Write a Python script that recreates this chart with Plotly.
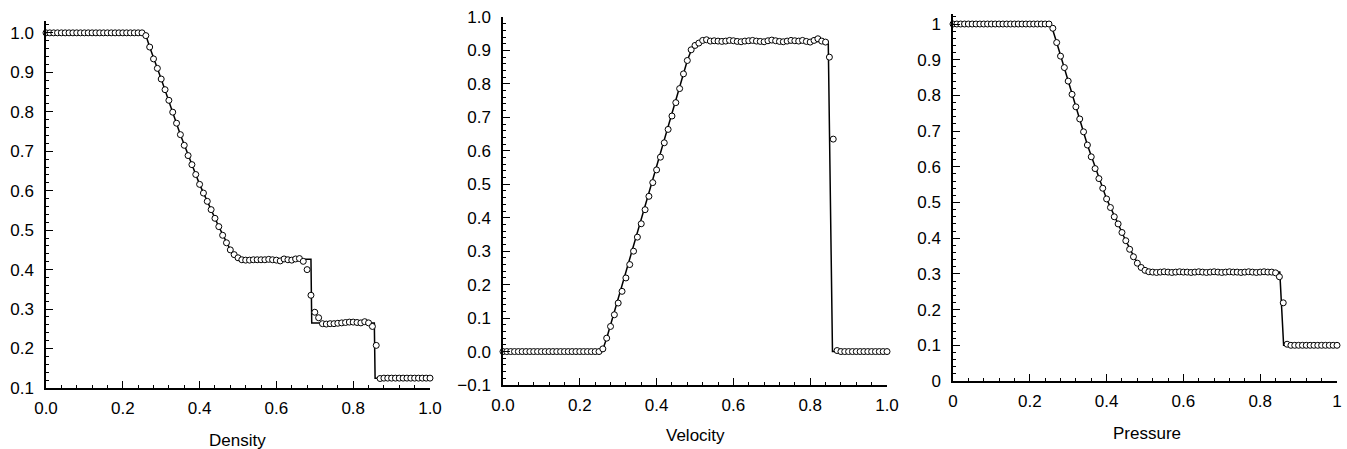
import plotly.graph_objects as go

# ---------------- data ----------------
x_grid = [round(0.01 * i, 2) for i in range(101)]

density_pts = (
    [1.0] * 26 +
    [0.993, 0.964, 0.934, 0.910, 0.883, 0.856, 0.829, 0.799, 0.771, 0.742,
     0.715, 0.689, 0.666, 0.641, 0.616, 0.594, 0.573, 0.552, 0.530, 0.509,
     0.487, 0.468, 0.450, 0.438, 0.430, 0.425, 0.424, 0.424, 0.425, 0.425,
     0.425, 0.425, 0.426, 0.425, 0.424, 0.422, 0.427, 0.425, 0.424, 0.427,
     0.428, 0.421, 0.400, 0.335, 0.292, 0.278, 0.263, 0.262, 0.263, 0.263,
     0.264, 0.265, 0.266, 0.267, 0.267, 0.266, 0.265, 0.268, 0.265, 0.256,
     0.208, 0.124] +
    [0.125] * 13
)

velocity_pts = (
    [0.0] * 26 +
    [0.008, 0.040, 0.075, 0.110, 0.145, 0.180, 0.220, 0.260, 0.300, 0.342,
     0.382, 0.424, 0.464, 0.505, 0.543, 0.581, 0.624, 0.664, 0.704, 0.744,
     0.786, 0.830, 0.870, 0.902, 0.915, 0.922, 0.930, 0.932, 0.928, 0.929,
     0.928, 0.927, 0.928, 0.930, 0.929, 0.927, 0.926, 0.928, 0.929, 0.930,
     0.928, 0.927, 0.926, 0.929, 0.931, 0.929, 0.927, 0.926, 0.928, 0.930,
     0.929, 0.928, 0.930, 0.927, 0.925, 0.930, 0.935, 0.928, 0.925, 0.880,
     0.635, 0.003] +
    [0.0] * 13
)

pressure_pts = (
    [1.0] * 26 +
    [0.988, 0.948, 0.910, 0.878, 0.840, 0.803, 0.768, 0.734, 0.698, 0.661,
     0.628, 0.595, 0.567, 0.540, 0.510, 0.486, 0.460, 0.440, 0.416, 0.393,
     0.369, 0.348, 0.330, 0.318, 0.310, 0.306, 0.305, 0.304, 0.305, 0.306,
     0.305, 0.304, 0.305, 0.306, 0.305, 0.305, 0.304, 0.305, 0.306, 0.305,
     0.304, 0.305, 0.306, 0.305, 0.304, 0.305, 0.306, 0.305, 0.305, 0.304,
     0.305, 0.306, 0.305, 0.304, 0.305, 0.306, 0.305, 0.305, 0.303, 0.292,
     0.219, 0.103] +
    [0.1] * 13
)

# reference-solution lines (breakpoints)
density_line_x = [0.0, 0.258, 0.27, 0.30, 0.35, 0.40, 0.45, 0.48, 0.495, 0.51, 0.690, 0.692, 0.855, 0.857, 1.0]
density_line_y = [1.0, 1.0, 0.964, 0.883, 0.742, 0.616, 0.509, 0.450, 0.432, 0.426, 0.426, 0.265, 0.265, 0.125, 0.125]

velocity_line_x = [0.0, 0.258, 0.27, 0.48, 0.495, 0.51, 0.847, 0.858, 1.0]
velocity_line_y = [0.0, 0.0, 0.040, 0.870, 0.915, 0.927, 0.927, 0.0, 0.0]

pressure_line_x = [0.0, 0.255, 0.27, 0.30, 0.35, 0.40, 0.45, 0.48, 0.495, 0.51, 0.851, 0.861, 1.0]
pressure_line_y = [1.0, 1.0, 0.948, 0.840, 0.661, 0.510, 0.393, 0.330, 0.313, 0.305, 0.305, 0.1, 0.1]

titles = ["Density", "Velocity", "Pressure"]

# ---------------- figure ----------------
W, H = 1347, 449
fig = go.Figure()

series = [
    (density_line_x, density_line_y, density_pts),
    (velocity_line_x, velocity_line_y, velocity_pts),
    (pressure_line_x, pressure_line_y, pressure_pts),
]
for i, (lx, ly, pts) in enumerate(series):
    ax = "" if i == 0 else str(i + 1)
    fig.add_trace(go.Scatter(x=lx, y=ly, mode="lines",
                             line=dict(color="black", width=1.5),
                             xaxis="x" + ax, yaxis="y" + ax, showlegend=False,
                             cliponaxis=False))
    fig.add_trace(go.Scatter(x=x_grid, y=pts, mode="markers",
                             marker=dict(symbol="circle", size=6, color="white",
                                         line=dict(color="black", width=1)),
                             xaxis="x" + ax, yaxis="y" + ax, showlegend=False,
                             cliponaxis=False))

font = dict(family="Liberation Sans, Arial, Helvetica, sans-serif", size=17, color="black")

# pixel geometry of the three panels: (left, right, top, bottom), y ranges
panels = [
    (46, 430, 21, 388, [0.1, 1.03], ".1f", ".1f"),
    (503, 887, 17, 385, [-0.1, 1.0], ".1f", ".1f"),
    (953, 1337, 14, 381, [0.0, 1.028], "", ""),
]

layout = dict(width=W, height=H, margin=dict(l=0, r=0, t=0, b=0, autoexpand=False),
              paper_bgcolor="white", plot_bgcolor="white", font=font)

common = dict(showgrid=False, zeroline=False, showline=True, linecolor="black",
              linewidth=1.5, ticks="inside", tickcolor="black", tickwidth=1,
              ticklen=7, tickfont=font, automargin=False)

for i, (l, r, t, b, yr, xf, yf) in enumerate(panels):
    ax = "" if i == 0 else str(i + 1)
    layout["xaxis" + ax] = dict(
        domain=[l / W, r / W], range=[0, 1], anchor="y" + ax,
        tick0=0, dtick=0.2, tickformat=xf, ticklabelstandoff=4,
        minor=dict(ticks="inside", ticklen=3, dtick=0.04, tickcolor="black", tickwidth=1),
        **common)
    layout["yaxis" + ax] = dict(
        domain=[1 - b / H, 1 - t / H], range=yr, anchor="x" + ax,
        tick0=0, dtick=0.1, tickformat=yf, ticklabelstandoff=7,
        minor=dict(ticks="inside", ticklen=3, dtick=0.02, tickcolor="black", tickwidth=1),
        **common)

fig.update_layout(**layout)

title_pos = [(237, 440), (695, 435), (1147, 433)]
for (cx, cy), txt in zip(title_pos, titles):
    fig.add_annotation(text=txt, x=cx / W, y=1 - cy / H, xref="paper", yref="paper",
                       showarrow=False, xanchor="center", yanchor="middle", font=font)

fig.write_html("out.html")
